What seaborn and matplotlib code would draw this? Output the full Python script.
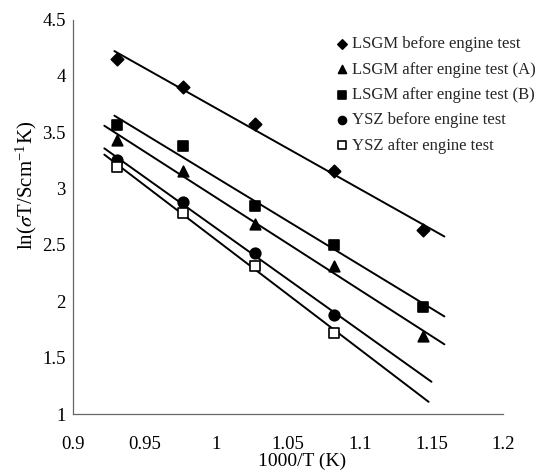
import numpy as np
import pandas as pd
import matplotlib
matplotlib.use("Agg")
import matplotlib.pyplot as plt
import seaborn as sns

# ---- data ----
x_inv_T = [0.931, 0.977, 1.027, 1.082, 1.144]
lsgm_before = [4.15, 3.90, 3.57, 3.16, 2.63]
lsgm_after_a = [3.43, 3.16, 2.69, 2.31, 1.69]
lsgm_after_b = [3.56, 3.38, 2.85, 2.50, 1.95]
ysz_before = [3.25, 2.88, 2.43, 1.88]
ysz_after = [3.19, 2.785, 2.316, 1.722]

labels = ["LSGM before engine test", "LSGM after engine test (A)",
          "LSGM after engine test (B)", "YSZ before engine test",
          "YSZ after engine test"]
values = [lsgm_before, lsgm_after_a, lsgm_after_b, ysz_before, ysz_after]
# x-range over which each trendline is drawn
fit_ranges = [(0.929, 1.159), (0.922, 1.159), (0.929, 1.159),
              (0.922, 1.150), (0.922, 1.148)]
markers = ["D", "^", "s", "o", "s"]
facecolors = ["black", "black", "black", "black", "white"]
msizes = [40, 58, 55, 58, 50]

x_ticks = [0.9, 0.95, 1.0, 1.05, 1.1, 1.15, 1.2]
x_tick_labels = ["0.9", "0.95", "1", "1.05", "1.1", "1.15", "1.2"]
y_ticks = [1, 1.5, 2, 2.5, 3, 3.5, 4, 4.5]
y_tick_labels = ["1", "1.5", "2", "2.5", "3", "3.5", "4", "4.5"]

sns.set_theme(style="white")
plt.rcParams["font.family"] = ["Liberation Serif", "DejaVu Serif"]
plt.rcParams["mathtext.fontset"] = "stix"

fig = plt.figure(figsize=(5.47, 4.73), dpi=100)
ax = fig.add_axes([0.133, 0.1247, 0.787, 0.834])

for lab, vals, rng, m, fc, ms in zip(labels, values, fit_ranges, markers, facecolors, msizes):
    xs = x_inv_T[:len(vals)]
    df = pd.DataFrame({"x": xs, "y": vals})
    slope, icpt = np.polyfit(xs, vals, 1)
    lx = np.array(rng)
    sns.lineplot(x=lx, y=slope * lx + icpt, ax=ax, color="black", lw=1.4,
                 legend=False)
    sns.scatterplot(data=df, x="x", y="y", ax=ax, marker=m, s=ms,
                    facecolor=fc, edgecolor="black", linewidth=1.2,
                    label=lab, zorder=3)

ax.set_xlim(0.9, 1.2)
ax.set_ylim(1, 4.5)
ax.set_xticks(x_ticks)
ax.set_xticklabels(x_tick_labels)
ax.set_yticks(y_ticks)
ax.set_yticklabels(y_tick_labels)
ax.tick_params(axis="both", direction="out", length=3.5, width=0.8,
               color="#555555", labelsize=13.5, labelcolor="black")
ax.tick_params(axis="x", pad=12)
ax.tick_params(axis="y", pad=1.5)
for side in ["top", "right"]:
    ax.spines[side].set_visible(False)
for side in ["left", "bottom"]:
    ax.spines[side].set_color("#666666")
    ax.spines[side].set_linewidth(0.9)

ax.set_xlabel("1000/T (K)", fontsize=14, color="black")
ax.set_ylabel(r"ln($\sigma$T/Scm$^{\mathregular{-1}}$K)", fontsize=15,
              color="black")
ax.xaxis.set_label_coords(0.533, -0.098)
ax.yaxis.set_label_coords(-0.079, 0.579)

ax.legend(loc="upper left", bbox_to_anchor=(0.606, 0.957), frameon=False,
          fontsize=12, handletextpad=0.1, handlelength=1.0, markerscale=0.75,
          labelspacing=0.56, borderaxespad=0.0, borderpad=0.0)

fig.savefig("out.png", dpi=100)
